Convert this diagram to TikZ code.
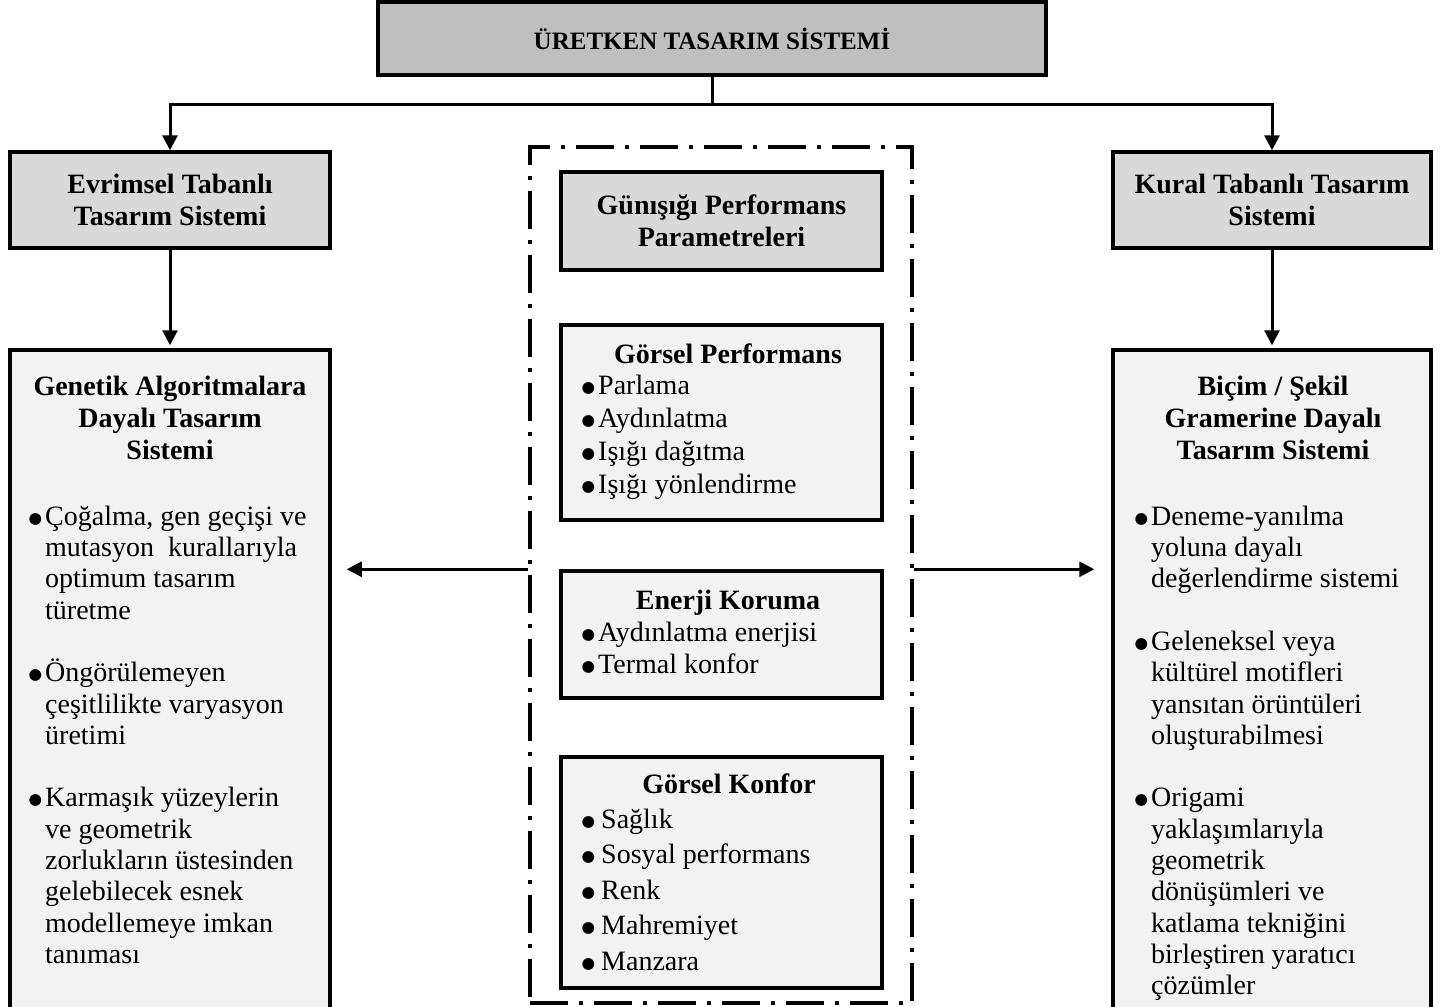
\documentclass[tikz,border=0pt]{standalone}
\usepackage{fontspec}
\setmainfont{Liberation Serif}
\newfontfamily\symfont{DejaVu Sans}
\usetikzlibrary{arrows.meta,positioning}
\definecolor{headgray}{HTML}{BFBFBF}
\definecolor{subgray}{HTML}{D9D9D9}
\definecolor{panelgray}{HTML}{F2F2F2}
\newcommand{\dotmark}{\hspace*{-2.5pt}\raisebox{2pt}{\symfont\fontsize{15.5}{15.5}\selectfont ●}}
\newcommand{\bl}{\makebox[14pt][l]{\dotmark}}
\newcommand{\blw}{\makebox[17pt][l]{\dotmark}}
\newcommand{\ind}{\hspace*{14pt}}
\newcommand{\topline}{\rule{0pt}{26pt}}

\begin{document}
\begin{tikzpicture}[x=1pt,y=-1pt,
  box/.style={draw, line width=3.5pt, inner sep=0pt, align=center,
    font=\fontsize{28}{31.5}\selectfont\bfseries},
  head/.style={box, fill=headgray, minimum width=668pt, minimum height=73pt,
    font=\fontsize{25}{30}\selectfont\bfseries},
  sub/.style={box, fill=subgray, minimum height=96pt},
  panel/.style={box, fill=panelgray},
  ttl/.style={inner sep=0pt, align=center, anchor=north,
    font=\fontsize{28}{32}\selectfont\bfseries},
  lst/.style={inner sep=0pt, align=left, anchor=north west,
    font=\fontsize{28}{31.3}\selectfont},
  arr/.style={line width=3pt, -{Triangle[length=15pt,width=15pt]}}]
  \useasboundingbox (0,0) rectangle (1441,1007);
  \clip (0,0) rectangle (1441,1007);

  % ust kutu ve iki ana kol
  \node[head] (top) at (712,38.5) {ÜRETKEN TASARIM SİSTEMİ};
  \node[sub, minimum width=320pt] (evr) at (170,200) {Evrimsel Tabanlı\\Tasarım Sistemi};
  \node[sub, minimum width=318pt] (kural) at (1272,200) {Kural Tabanlı Tasarım\\Sistemi};
  \node[panel, minimum width=320pt, minimum height=680pt] (gen) at (170,690) {};
  \node[panel, minimum width=318pt, minimum height=680pt] (bic) at (1272,690) {};

  % orta cerceve
  \node[draw, line width=4pt, dash pattern=on 38pt off 11pt on 4pt off 11pt,
    minimum width=382pt, minimum height=856pt] (frame) at (721,575) {};
  \node[sub, minimum width=321pt, minimum height=98pt] (gunes) at (721.5,221)
    {Günışığı Performans\\Parametreleri};
  \node[panel, minimum width=321pt, minimum height=195pt] (gorsel) at (721.5,422.5) {};
  \node[panel, minimum width=321pt, minimum height=127pt] (enerji) at (721.5,634.5) {};
  \node[panel, minimum width=321pt, minimum height=231pt] (konfor) at (721.5,872.5) {};

  % sol panel
  \node[ttl] (gentitle) at (170,369) {\topline Genetik Algoritmalara\\Dayalı Tasarım\\Sistemi};
  \node[lst] (genlist) at (31,499) {\topline\bl Çoğalma, gen geçişi ve\\
    \ind mutasyon\ \ kurallarıyla\\ \ind optimum tasarım\\ \ind türetme\\[31.3pt]
    \bl Öngörülemeyen\\ \ind çeşitlilikte varyasyon\\ \ind üretimi\\[31.3pt]
    \bl Karmaşık yüzeylerin\\ \ind ve geometrik\\ \ind zorlukların üstesinden\\
    \ind gelebilecek esnek\\ \ind modellemeye imkan\\ \ind tanıması};

  % sag panel
  \node[ttl] (bictitle) at (1273,369) {\topline Biçim / Şekil\\Gramerine Dayalı\\Tasarım Sistemi};
  \node[lst] (biclist) at (1137,499) {\topline\bl Deneme-yanılma\\
    \ind yoluna dayalı\\ \ind değerlendirme sistemi\\[31.3pt]
    \bl Geleneksel veya\\ \ind kültürel motifleri\\ \ind yansıtan örüntüleri\\
    \ind oluşturabilmesi\\[31.3pt]
    \bl Origami\\ \ind yaklaşımlarıyla\\ \ind geometrik\\ \ind dönüşümleri ve\\
    \ind katlama tekniğini\\ \ind birleştiren yaratıcı\\ \ind çözümler};

  % orta kutular
  \node[ttl] (gortitle) at (728,337) {\topline Görsel Performans};
  \node[lst, font=\fontsize{28}{33}\selectfont] (gorlist) at (584,368)
    {\topline\bl Parlama\\ \bl Aydınlatma\\ \bl Işığı dağıtma\\ \bl Işığı yönlendirme};
  \node[ttl] (enerjititle) at (728,583) {\topline Enerji Koruma};
  \node[lst, font=\fontsize{28}{32}\selectfont] (enerjilist) at (584,615)
    {\topline\bl Aydınlatma enerjisi\\ \bl Termal konfor};
  \node[ttl] (konfortitle) at (729,767) {\topline Görsel Konfor};
  \node[lst, font=\fontsize{28}{35.5}\selectfont] (konforlist) at (584,802)
    {\topline\blw Sağlık\\ \blw Sosyal performans\\ \blw Renk\\ \blw Mahremiyet\\ \blw Manzara};

  % baglantilar
  \draw[line width=3pt] (top.south) -- ++(0,28) coordinate (split);
  \draw[arr] (split) -| (evr.north);
  \draw[arr] (split) -| (kural.north);
  \draw[arr, shorten >=3pt] (evr.south) -- (gen.north);
  \draw[arr, shorten >=3pt] (kural.south) -- (bic.north);
  \draw[arr, shorten >=15pt] (frame.west |- enerji.north) -- (gen.east |- enerji.north);
  \draw[arr, shorten >=17pt] (frame.east |- enerji.north) -- (bic.west |- enerji.north);
\end{tikzpicture}
\end{document}
